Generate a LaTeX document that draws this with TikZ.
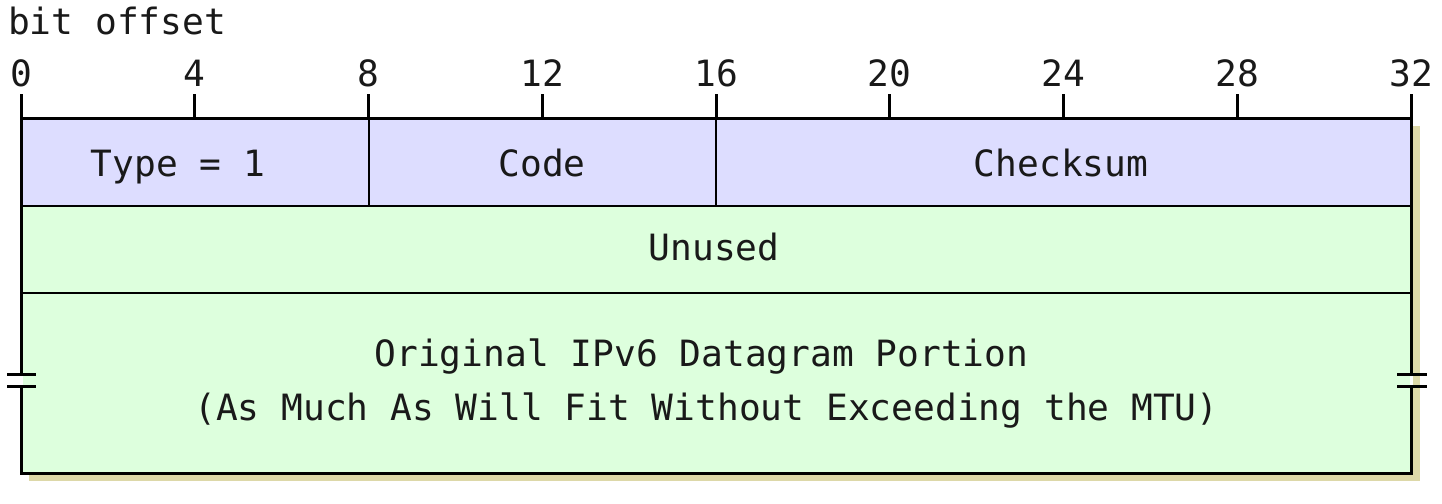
\documentclass[tikz,border=0pt]{standalone}
\usepackage{fontspec}
\newfontfamily\monofnt{DejaVu Sans Mono}
\definecolor{lav}{HTML}{DDDDFF}
\definecolor{mint}{HTML}{DDFFDD}
\definecolor{shadowc}{HTML}{DDD8A8}
\begin{document}
\begin{tikzpicture}[x=1pt,y=-1pt,
  txt/.style={font=\monofnt\fontsize{36.2}{54}\selectfont, text=black!90, inner sep=0pt, align=center},
  cell/.style={draw=black, line width=2pt, inner sep=0pt, outer sep=0pt},
  border/.style={line width=3pt, line cap=rect},
  tick/.style={line width=3pt}]
\useasboundingbox (0,0) rectangle (1442,503);
% shadow
\fill[shadowc] (29,126) rectangle (1420,481);
% cells
\node[cell, fill=lav, minimum width=347.5pt, minimum height=88pt] (type) at (194.75,162) {};
\node[cell, fill=lav, minimum width=347.5pt, minimum height=88pt] (code) at (542.25,162) {};
\node[cell, fill=lav, minimum width=695pt, minimum height=88pt] (cks) at (1063.5,162) {};
\node[cell, fill=mint, minimum width=1390pt, minimum height=87pt] (unused) at (716,249.5) {};
\node[cell, fill=mint, minimum width=1390pt, minimum height=180pt] (orig) at (716,383) {};
% labels
\node[txt, anchor=base] (ltype) at (178,176) {Type = 1};
\node[txt, anchor=base] (lcode) at (542,176) {Code};
\node[txt, anchor=base] (lcks) at (1061,176) {Checksum};
\node[txt, anchor=base] (lunused) at (714,260) {Unused};
\node[txt, anchor=base] (lorig1) at (701.5,366) {Original IPv6 Datagram Portion};
\node[txt, anchor=base] (lorig2) at (706.5,420) {(As Much As Will Fit Without Exceeding the MTU)};
% outer border with breaks
\coordinate (tl) at (21,118);
\coordinate (tr) at (1411,118);
\coordinate (bl) at (21,473);
\coordinate (br) at (1411,473);
\draw[border] (21,374) -- (tl) -- (tr) -- (1411,374);
\draw[border] (1411,386) -- (br) -- (bl) -- (21,386);
\fill[white] (19.5,375.5) rectangle (22.5,384.5);
\fill[white] (1409.5,375.5) rectangle (1412.5,384.5);
\draw[line width=3pt] (7,374) -- (36,374) (7,386) -- (36,386);
\draw[line width=3pt] (1397,374) -- (1427,374) (1397,386) -- (1427,386);
% title
\node[txt, anchor=base west] (title) at (8,35) {bit offset};
% ruler
\foreach \b/\nm in {0/a,4/b,8/c,12/d,16/e,20/f,24/g,28/h,32/i}{
  \pgfmathsetmacro{\xx}{21+43.4375*\b}
  \node[txt, anchor=base] (n\nm) at (\xx,86) {\b};
  \draw[tick] (\xx,94) -- (\xx,118);
}
\end{tikzpicture}
\end{document}
